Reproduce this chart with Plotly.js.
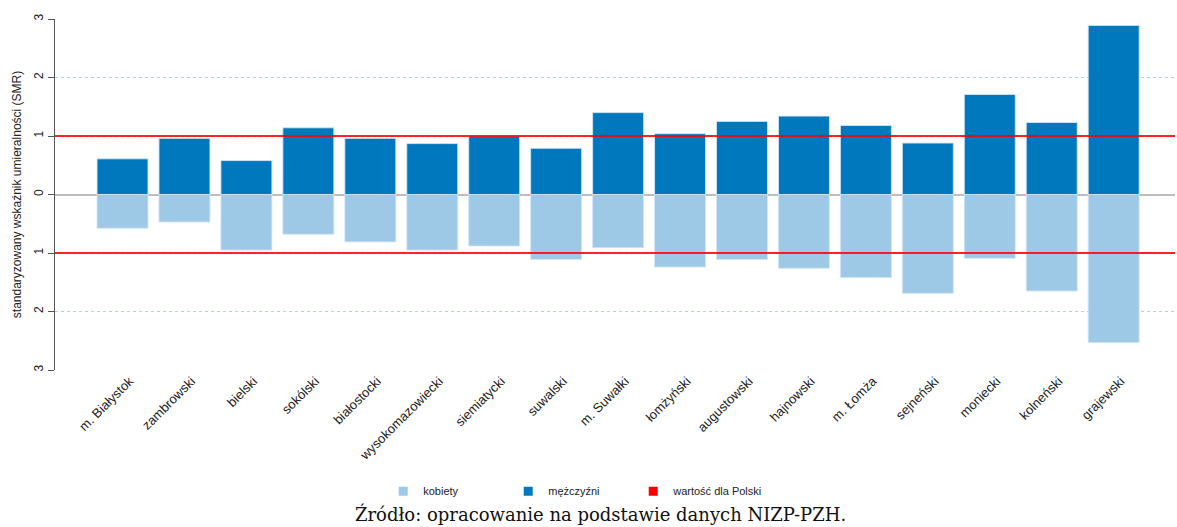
<!DOCTYPE html>
<html>
<head>
<meta charset="utf-8">
<script src="https://cdn.plot.ly/plotly-3.0.1.min.js"></script>
<style>html,body{margin:0;padding:0;background:#fff;}#chart{width:1177px;height:527px;}</style>
</head>
<body>
<div id="chart"></div>
<script>
const categories = ["m. Białystok","zambrowski","bielski","sokólski","białostocki","wysokomazowiecki","siemiatycki","suwalski","m. Suwałki","łomżyński","augustowski","hajnowski","m. Łomża","sejneński","moniecki","kolneński","grajewski"];
const men   = [0.61,0.96,0.58,1.14,0.96,0.87,1.00,0.79,1.40,1.04,1.25,1.34,1.18,0.88,1.71,1.23,2.89];
const women = [0.575,0.47,0.95,0.68,0.81,0.95,0.88,1.11,0.91,1.24,1.11,1.26,1.42,1.69,1.09,1.65,2.53];
const polandValue = 1;
const yTickVals = [-3,-2,-1,0,1,2,3];
const yTickText = ["3","2","1","0","1","2","3"];
const legendNames = ["kobiety","mężczyźni","wartość dla Polski"];
const colors = ["#9DC8E6","#0078BE","#FF0000"];

const xIdx = categories.map((c,i)=>i);
const xMin = -1.09, xMax = 16.99;
const barLine = {color:'rgba(210,230,245,0.9)', width:1};

const traces = [
  {type:'bar', name:legendNames[0], x:xIdx, y:women.map(v=>-v), marker:{color:colors[0], line:barLine}, hoverinfo:'skip', showlegend:false},
  {type:'bar', name:legendNames[1], x:xIdx, y:men, marker:{color:colors[1], line:barLine}, hoverinfo:'skip', showlegend:false},
  {type:'scatter', mode:'lines', x:[xMin,xMax], y:[polandValue,polandValue], line:{color:'rgba(255,0,0,0.85)', width:2}, showlegend:false, hoverinfo:'skip'},
  {type:'scatter', mode:'lines', x:[xMin,xMax], y:[-polandValue,-polandValue], line:{color:'rgba(255,0,0,0.85)', width:2}, showlegend:false, hoverinfo:'skip'}
];
legendNames.forEach((n,i)=>{
  traces.push({type:'scatter', mode:'markers', name:n, x:[null], y:[null], marker:{symbol:'square', size:9, color:colors[i]}, hoverinfo:'skip'});
});
// empty spacer entry so the last legend label is not clipped
traces.push({type:'scatter', mode:'markers', name:' ', x:[null], y:[null], marker:{symbol:'square', size:9, color:'rgba(0,0,0,0)'}, hoverinfo:'skip'});

const layout = {
  width:1177, height:527,
  margin:{l:55, r:2, t:19, b:157},
  paper_bgcolor:'#fff', plot_bgcolor:'#fff',
  barmode:'relative', bargap:0.177,
  font:{family:'"Liberation Sans", Arial, sans-serif', size:12, color:'#222'},
  showlegend:true,
  legend:{orientation:'h', xref:'container', x:0.538, xanchor:'center', yref:'container', y:0.068, yanchor:'middle',
          font:{size:11, color:'#222'}, itemwidth:30, entrywidth:80, entrywidthmode:'pixels', traceorder:'normal'},
  xaxis:{range:[xMin,xMax], tickmode:'array', tickvals:xIdx, ticktext:categories, tickangle:-45,
         showgrid:false, zeroline:false, showline:false, ticks:'', ticklabelshift:7,
         tickfont:{size:13, color:'#222'}, fixedrange:true},
  yaxis:{range:[-3,3], tickmode:'array', tickvals:yTickVals, ticktext:yTickText, tickangle:-90,
         showgrid:true, gridcolor:'#a6d6ee', griddash:'dot', gridwidth:1,
         zeroline:true, zerolinecolor:'#bdbdbd', zerolinewidth:2,
         showline:true, linecolor:'#555', linewidth:1, ticks:'outside', ticklen:6, tickcolor:'#555',
         tickfont:{size:12, color:'#222'},
         title:{text:'standaryzowany wskaźnik umieralności (SMR)', font:{size:12, color:'#222'}, standoff:8}},
  annotations:[{xref:'paper', yref:'paper', x:0.487, y:-0.41, xanchor:'center', yanchor:'middle', showarrow:false,
    text:'Źródło: opracowanie na podstawie danych NIZP-PZH.', font:{family:'"DejaVu Serif", "Liberation Serif", serif', size:18, color:'#111'}}]
};

Plotly.newPlot('chart', traces, layout, {displayModeBar:false, staticPlot:true});
</script>
</body>
</html>
